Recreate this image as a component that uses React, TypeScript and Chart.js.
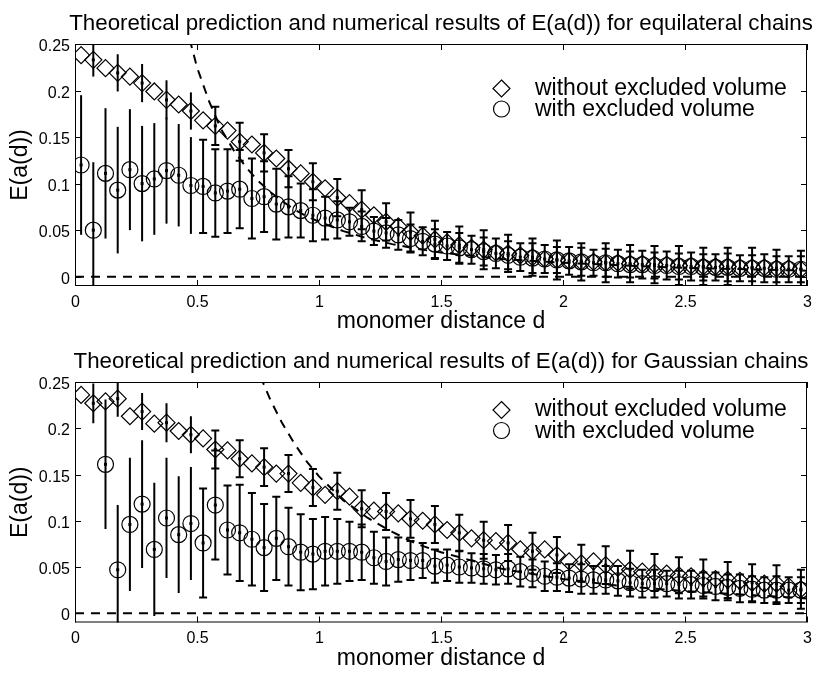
import React, { useEffect, useRef } from 'react'
import { Chart, registerables } from 'chart.js'

Chart.register(...registerables)

const FONT = '"Liberation Sans", Arial, Helvetica, sans-serif'

// monomer distance of every sample
const sampleX = [
  0.025, 0.075, 0.125, 0.175, 0.225, 0.275, 0.325, 0.375, 0.425, 0.475,
  0.525, 0.575, 0.625, 0.675, 0.725, 0.775, 0.825, 0.875, 0.925, 0.975,
  1.025, 1.075, 1.125, 1.175, 1.225, 1.275, 1.325, 1.375, 1.425, 1.475,
  1.525, 1.575, 1.625, 1.675, 1.725, 1.775, 1.825, 1.875, 1.925, 1.975,
  2.025, 2.075, 2.125, 2.175, 2.225, 2.275, 2.325, 2.375, 2.425, 2.475,
  2.525, 2.575, 2.625, 2.675, 2.725, 2.775, 2.825, 2.875, 2.925, 2.975,
]

// equilateral chains
const equiWithout = [
  0.238, 0.233, 0.224, 0.219, 0.215, 0.208, 0.199, 0.19, 0.185, 0.178,
  0.168, 0.162, 0.157, 0.145, 0.142, 0.133, 0.127, 0.116, 0.111, 0.102,
  0.095, 0.085, 0.079, 0.072, 0.066, 0.059, 0.054, 0.048, 0.044, 0.04,
  0.037, 0.034, 0.031, 0.029, 0.026, 0.025, 0.023, 0.021, 0.019, 0.018,
  0.017, 0.016, 0.016, 0.015, 0.015, 0.014, 0.014, 0.013, 0.013, 0.012,
  0.012, 0.011, 0.011, 0.011, 0.01, 0.01, 0.01, 0.009, 0.009, 0.008,
]
const equiWithoutErr = [
  null, 0.018, null, 0.02, null, 0.0205, null, 0.021, null, 0.02,
  null, 0.0205, null, 0.0205, null, 0.02, null, 0.02, null, 0.02,
  null, 0.02, null, 0.021, null, 0.02, null, 0.021, null, 0.02,
  null, 0.02, null, 0.021, null, 0.02, null, 0.02, null, 0.021,
  null, 0.02, null, 0.021, null, 0.02, null, 0.02, null, 0.021,
  null, 0.02, null, 0.02, null, 0.021, null, 0.02, null, 0.02,
]
const equiWith = [
  0.12, 0.05, 0.111, 0.093, 0.115, 0.1, 0.105, 0.114, 0.109, 0.098,
  0.097, 0.09, 0.092, 0.094, 0.084, 0.086, 0.078, 0.075, 0.071, 0.066,
  0.063, 0.061, 0.059, 0.054, 0.049, 0.047, 0.045, 0.041, 0.038, 0.035,
  0.033, 0.031, 0.029, 0.027, 0.025, 0.023, 0.021, 0.02, 0.019, 0.018,
  0.017, 0.016, 0.015, 0.015, 0.014, 0.013, 0.013, 0.012, 0.012, 0.011,
  0.011, 0.01, 0.01, 0.01, 0.009, 0.009, 0.009, 0.008, 0.008, 0.008,
]
const equiWithErr = [
  0.075, 0.073, 0.07, 0.068, 0.065, 0.062, 0.06, 0.057, 0.055, 0.052,
  0.05, 0.047, 0.045, 0.042, 0.043, 0.038, 0.038, 0.033, 0.029, 0.028,
  0.023, 0.02, 0.015, 0.016, 0.015, 0.016, 0.016, 0.015, 0.015, 0.016,
  0.015, 0.016, 0.015, 0.015, 0.016, 0.015, 0.015, 0.016, 0.015, 0.014,
  0.015, 0.015, 0.014, 0.015, 0.015, 0.014, 0.015, 0.014, 0.015, 0.014,
  0.015, 0.014, 0.014, 0.015, 0.014, 0.014, 0.015, 0.014, 0.014, 0.014,
]
const equiTheoryX = [0.47, 0.5, 0.55, 0.6, 0.65, 0.7, 0.75, 0.8, 0.85, 0.9, 0.95, 1, 1.1, 1.2, 1.3, 1.4, 1.5, 1.75, 2, 2.25, 2.5, 2.75, 3]
const equiTheoryY = [0.255, 0.225, 0.188, 0.158, 0.136, 0.118, 0.103, 0.091, 0.081, 0.072, 0.065, 0.059, 0.049, 0.041, 0.035, 0.03, 0.026, 0.019, 0.015, 0.012, 0.0095, 0.008, 0.0065]

// Gaussian chains
const gaussWithout = [
  0.236, 0.227, 0.229, 0.232, 0.213, 0.218, 0.205, 0.206, 0.197, 0.193,
  0.189, 0.177, 0.176, 0.167, 0.162, 0.158, 0.151, 0.151, 0.141, 0.136,
  0.128, 0.132, 0.126, 0.113, 0.111, 0.11, 0.108, 0.102, 0.1, 0.096,
  0.09, 0.087, 0.081, 0.079, 0.078, 0.076, 0.069, 0.067, 0.069, 0.063,
  0.056, 0.054, 0.056, 0.052, 0.049, 0.047, 0.045, 0.044, 0.043, 0.041,
  0.04, 0.038, 0.037, 0.036, 0.035, 0.033, 0.032, 0.032, 0.029, 0.026,
]
const gaussWithoutErr = [
  null, 0.0215, null, 0.0195, null, 0.02, null, 0.021, null, 0.02,
  null, 0.0205, null, 0.02, null, 0.0205, null, 0.02, null, 0.02,
  null, 0.02, null, 0.02, null, 0.02, null, 0.0205, null, 0.02,
  null, 0.0195, null, 0.02, null, 0.0195, null, 0.02, null, 0.0195,
  null, 0.02, null, 0.0205, null, 0.0205, null, 0.02, null, 0.0195,
  null, 0.02, null, 0.0195, null, 0.02, null, 0.02, null, 0.021,
]
const gaussWith = [
  null, null, 0.161, 0.047, 0.096, 0.118, 0.069, 0.103, 0.085, 0.097,
  0.076, 0.117, 0.09, 0.087, 0.08, 0.071, 0.081, 0.072, 0.066, 0.064,
  0.067, 0.067, 0.067, 0.066, 0.06, 0.056, 0.058, 0.057, 0.057, 0.051,
  0.052, 0.05, 0.049, 0.048, 0.047, 0.048, 0.045, 0.043, 0.04, 0.039,
  0.038, 0.037, 0.036, 0.036, 0.035, 0.033, 0.032, 0.032, 0.032, 0.031,
  0.031, 0.03, 0.029, 0.028, 0.027, 0.026, 0.025, 0.025, 0.025, 0.025,
]
const gaussWithErr = [
  null, null, 0.07, 0.07, 0.072, 0.069, 0.072, 0.065, 0.063, 0.061,
  0.059, 0.059, 0.048, 0.052, 0.05, 0.047, 0.045, 0.042, 0.041, 0.038,
  0.037, 0.035, 0.032, 0.03, 0.028, 0.026, 0.024, 0.021, 0.019, 0.018,
  0.017, 0.017, 0.016, 0.016, 0.016, 0.016, 0.016, 0.015, 0.016, 0.015,
  0.015, 0.016, 0.015, 0.015, 0.016, 0.015, 0.015, 0.015, 0.014, 0.015,
  0.015, 0.014, 0.015, 0.014, 0.015, 0.014, 0.014, 0.015, 0.014, 0.014,
]
const gaussTheoryX = [0.76, 0.8, 0.85, 0.9, 0.95, 1, 1.1, 1.2, 1.3, 1.4, 1.5, 1.75, 2, 2.25, 2.5, 2.75, 3]
const gaussTheoryY = [0.256, 0.231, 0.205, 0.183, 0.164, 0.148, 0.122, 0.103, 0.088, 0.075, 0.066, 0.048, 0.037, 0.029, 0.024, 0.02, 0.016]

const zeroLineX = [0, 3]
const zeroLineY = [0, 0]

const xTicks = [0, 0.5, 1, 1.5, 2, 2.5, 3]
const xTickLabels = ['0', '0.5', '1', '1.5', '2', '2.5', '3']
const yTicks = [0, 0.05, 0.1, 0.15, 0.2, 0.25]
const yTickLabels = ['0', '0.05', '0.1', '0.15', '0.2', '0.25']
const legendLabels = ['without excluded volume', 'with excluded volume']

const CAP_FROM = 0.5 // error bars left of this have no caps
const CAP = 4

type Vals = (number | null)[]

interface PanelProps {
  title: string
  without: Vals
  withoutErr: Vals
  withEv: Vals
  withEvErr: Vals
  theoryX: number[]
  theoryY: number[]
  legendTop: number
  height: number
  axisH: number
}

function Panel({ title, without, withoutErr, withEv, withEvErr, theoryX, theoryY, legendTop, height, axisH }: PanelProps) {
  const canvasRef = useRef<HTMLCanvasElement>(null)

  useEffect(() => {
    if (!canvasRef.current) return

    const toPts = (ys: Vals) =>
      sampleX.map((x, i) => (ys[i] == null ? null : { x, y: ys[i] as number })).filter(p => p !== null)

    const overlay = {
      id: 'overlay',
      afterDatasetsDraw(chart: any) {
        const { ctx, chartArea: a, scales: { x, y } } = chart
        ctx.save()
        ctx.beginPath()
        ctx.rect(a.left, a.top, a.right - a.left, a.bottom - a.top)
        ctx.clip()
        ctx.strokeStyle = '#000'
        ctx.fillStyle = '#000'
        ctx.lineWidth = 2
        const bars = (vals: Vals, errs: Vals) => {
          sampleX.forEach((xv, i) => {
            const v = vals[i]
            const e = errs[i]
            if (v == null || e == null) return
            const px = x.getPixelForValue(xv)
            const hi = y.getPixelForValue(v + e)
            const lo = y.getPixelForValue(v - e)
            ctx.beginPath()
            ctx.moveTo(px, hi)
            ctx.lineTo(px, lo)
            if (xv > CAP_FROM) {
              ctx.moveTo(px - CAP, hi)
              ctx.lineTo(px + CAP, hi)
              ctx.moveTo(px - CAP, lo)
              ctx.lineTo(px + CAP, lo)
            }
            ctx.stroke()
            ctx.fillRect(px - 1.5, y.getPixelForValue(v) - 1.5, 3, 3)
          })
        }
        bars(without, withoutErr)
        bars(withEv, withEvErr)
        ctx.restore()
      },
      afterDraw(chart: any) {
        const { ctx, chartArea: a, scales: { x, y } } = chart
        ctx.save()
        ctx.strokeStyle = '#000'
        ctx.fillStyle = '#000'
        ctx.lineWidth = 1

        // box
        ctx.strokeRect(a.left + 0.5, a.top + 0.5, a.right - a.left - 1, a.bottom - a.top - 1)

        // inward ticks and labels
        ctx.font = `16px ${FONT}`
        ctx.beginPath()
        xTicks.forEach((v, i) => {
          const px = Math.round(x.getPixelForValue(v)) + 0.5
          ctx.moveTo(px, a.bottom)
          ctx.lineTo(px, a.bottom - 6)
          ctx.moveTo(px, a.top)
          ctx.lineTo(px, a.top + 6)
          ctx.textAlign = 'center'
          ctx.fillText(xTickLabels[i], px, a.bottom + 20.5)
        })
        yTicks.forEach((v, i) => {
          const py = Math.round(y.getPixelForValue(v)) + 0.5
          ctx.moveTo(a.left, py)
          ctx.lineTo(a.left + 6, py)
          ctx.moveTo(a.right, py)
          ctx.lineTo(a.right - 6, py)
          ctx.textAlign = 'right'
          ctx.fillText(yTickLabels[i], a.left - 5, py + 6)
        })
        ctx.stroke()

        // title and axis labels
        const cx = (a.left + a.right) / 2
        ctx.textAlign = 'center'
        ctx.font = `22.3px ${FONT}`
        ctx.fillText(title, cx, a.top - 14)
        ctx.font = `23px ${FONT}`
        ctx.fillText('monomer distance d', cx, a.bottom + 42)
        ctx.save()
        ctx.translate(21, (a.top + a.bottom) / 2)
        ctx.rotate(-Math.PI / 2)
        ctx.textBaseline = 'middle'
        ctx.fillText('E(a(d))', 0, 0)
        ctx.restore()

        // legend
        const mx = 501.5
        const d1 = legendTop
        const d2 = legendTop + 20.5
        ctx.lineWidth = 1.2
        ctx.beginPath()
        ctx.moveTo(mx, d1 - 8.5)
        ctx.lineTo(mx + 8.5, d1)
        ctx.lineTo(mx, d1 + 8.5)
        ctx.lineTo(mx - 8.5, d1)
        ctx.closePath()
        ctx.stroke()
        ctx.beginPath()
        ctx.arc(mx, d2, 8, 0, Math.PI * 2)
        ctx.stroke()
        ctx.textAlign = 'left'
        ctx.font = `23px ${FONT}`
        ctx.fillText(legendLabels[0], 535, d1 + 6)
        ctx.fillText(legendLabels[1], 535, d2 + 7)
        ctx.restore()
      },
    }

    const chart = new Chart(canvasRef.current, {
      type: 'scatter',
      data: {
        datasets: [
          {
            data: zeroLineX.map((x, i) => ({ x, y: zeroLineY[i] })),
            showLine: true,
            borderColor: '#000',
            borderWidth: 2,
            borderDash: [9, 7],
            pointRadius: 0,
          },
          {
            data: theoryX.map((x, i) => ({ x, y: theoryY[i] })),
            showLine: true,
            borderColor: '#000',
            borderWidth: 2,
            borderDash: [9, 7],
            pointRadius: 0,
          },
          {
            data: toPts(without),
            pointStyle: 'rectRot',
            pointRadius: 8.5,
            borderColor: '#000',
            borderWidth: 1.2,
            backgroundColor: 'transparent',
          },
          {
            data: toPts(withEv),
            pointStyle: 'circle',
            pointRadius: 8,
            borderColor: '#000',
            borderWidth: 1.2,
            backgroundColor: 'transparent',
          },
        ],
      } as any,
      options: {
        animation: false,
        responsive: false,
        events: [],
        layout: { padding: { top: 44, left: 0, right: 23, bottom: 0 } },
        plugins: { legend: { display: false }, tooltip: { enabled: false }, title: { display: false } },
        scales: {
          x: {
            type: 'linear',
            min: 0,
            max: 3,
            afterBuildTicks: (s: any) => { s.ticks = xTicks.map(value => ({ value })) },
            afterFit: (s: any) => { s.height = axisH },
            ticks: { display: false },
            grid: { display: false, drawTicks: false },
            border: { display: false },
          },
          y: {
            type: 'linear',
            min: -0.01,
            max: 0.25,
            afterBuildTicks: (s: any) => { s.ticks = yTicks.map(value => ({ value })) },
            afterFit: (s: any) => { s.width = 75 },
            ticks: { display: false },
            grid: { display: false, drawTicks: false },
            border: { display: false },
          },
        },
      } as any,
      plugins: [overlay],
    })

    return () => chart.destroy()
  }, [title, without, withoutErr, withEv, withEvErr, theoryX, theoryY, legendTop, axisH])

  return <canvas ref={canvasRef} width={830} height={height} style={{ display: 'block' }} />
}

export default function App() {
  return (
    <div style={{ position: 'absolute', left: 0, top: 0, width: 830, height: 675, background: '#fff' }}>
      <Panel
        title="Theoretical prediction and numerical results of E(a(d)) for equilateral chains"
        without={equiWithout}
        withoutErr={equiWithoutErr}
        withEv={equiWith}
        withEvErr={equiWithErr}
        theoryX={equiTheoryX}
        theoryY={equiTheoryY}
        legendTop={88.5}
        height={338}
        axisH={52}
      />
      <Panel
        title="Theoretical prediction and numerical results of E(a(d)) for Gaussian chains"
        without={gaussWithout}
        withoutErr={gaussWithoutErr}
        withEv={gaussWith}
        withEvErr={gaussWithErr}
        theoryX={gaussTheoryX}
        theoryY={gaussTheoryY}
        legendTop={72}
        height={337}
        axisH={52.5}
      />
    </div>
  )
}
